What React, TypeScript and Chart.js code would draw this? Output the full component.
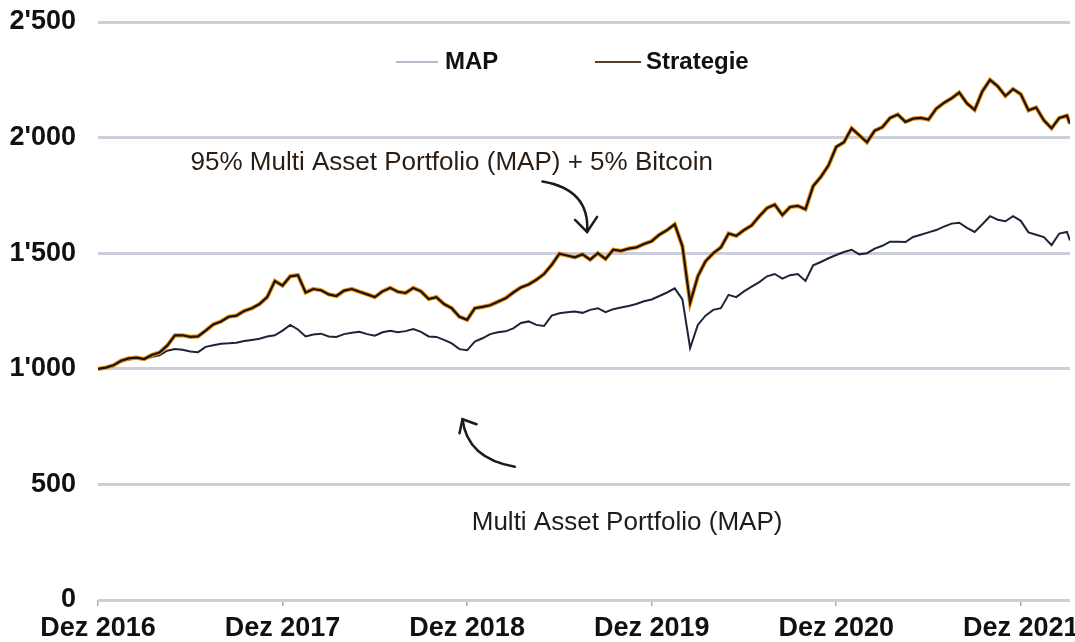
import React, { useEffect, useRef } from 'react';
import { Chart, registerables } from 'chart.js';

Chart.register(...registerables);

// Half-month sampling since Dez 2016 (months), last point a few days later
const STEP_MONTHS = 0.5;
const END_MONTH = 63.2;

const strategieValues = [
  1000, 1005, 1015, 1035, 1045, 1048, 1042, 1060, 1070, 1100,
  1145, 1145, 1138, 1140, 1165, 1192, 1205, 1225, 1230, 1250,
  1262, 1280, 1310, 1380, 1360, 1400, 1405, 1330, 1345, 1340,
  1322, 1315, 1338, 1345, 1333, 1322, 1310, 1335, 1350, 1333,
  1328, 1350, 1335, 1302, 1310, 1280, 1262, 1225, 1212, 1262,
  1268, 1275, 1290, 1305, 1330, 1352, 1365, 1385, 1410, 1450,
  1498, 1490, 1482, 1495, 1472, 1500, 1475, 1515, 1510, 1520,
  1525, 1540, 1552, 1580, 1600, 1625, 1530, 1285, 1400, 1465,
  1500, 1525, 1585, 1575, 1600, 1620, 1660, 1695, 1710, 1665,
  1700, 1705, 1690, 1790, 1830, 1880, 1960, 1980, 2040, 2010,
  1980, 2030, 2045, 2085, 2100, 2068, 2082, 2085, 2078, 2125,
  2150, 2170, 2195, 2148, 2120, 2200, 2250, 2222, 2180, 2210,
  2188, 2118, 2130, 2075, 2040, 2085, 2095, 2060,
];

const mapValues = [
  1000, 1003, 1012, 1030, 1040, 1045, 1040, 1052, 1058, 1078,
  1086, 1082, 1075, 1072, 1095, 1102, 1108, 1110, 1113, 1120,
  1125, 1130, 1140, 1145, 1165, 1190, 1170, 1140, 1148, 1152,
  1140, 1138, 1150, 1156, 1160, 1150, 1143, 1158, 1165, 1158,
  1163, 1172, 1160, 1140, 1138, 1125, 1110, 1085, 1080, 1118,
  1132, 1150, 1158, 1162, 1175, 1198, 1205, 1190, 1185, 1230,
  1240, 1245, 1248, 1242, 1255, 1262, 1245, 1258, 1265, 1272,
  1280, 1292, 1300, 1315, 1330, 1348, 1300, 1090, 1190, 1230,
  1255, 1262, 1320, 1310, 1335, 1355, 1375, 1400, 1410, 1390,
  1405, 1410, 1380, 1448, 1462, 1478, 1492, 1505, 1515, 1495,
  1500, 1520, 1532, 1550, 1550, 1548, 1570, 1580, 1590, 1600,
  1615, 1628, 1632, 1610, 1592, 1625, 1660, 1645, 1638, 1660,
  1640, 1590, 1580, 1570, 1535, 1585, 1592, 1555,
];

const months = strategieValues.map((_, i) =>
  i === strategieValues.length - 1 ? END_MONTH : i * STEP_MONTHS
);

const xTickLabels = ['Dez 2016', 'Dez 2017', 'Dez 2018', 'Dez 2019', 'Dez 2020', 'Dez 2021'];
const yTickLabels = ['0', '500', "1'000", "1'500", "2'000", "2'500"];
const seriesNames = ['MAP', 'Strategie'];
const annotationTop = '95% Multi Asset Portfolio (MAP) + 5% Bitcoin';
const annotationBottom = 'Multi Asset Portfolio (MAP)';

const FONT = '"Liberation Sans", Arial, Helvetica, sans-serif';

const overlayPlugin = {
  id: 'overlay',
  afterDraw(chart: any) {
    const { ctx } = chart;
    const xs = chart.scales.x;
    const ys = chart.scales.y;
    const px = (m: number) => xs.getPixelForValue(m);
    const py = (v: number) => ys.getPixelForValue(v);
    ctx.save();

    // Legend
    const ly = 62;
    ctx.lineWidth = 2;
    ctx.strokeStyle = '#b4bccb';
    ctx.beginPath();
    ctx.moveTo(396, ly);
    ctx.lineTo(438, ly);
    ctx.stroke();
    ctx.strokeStyle = '#5b3a2c';
    ctx.beginPath();
    ctx.moveTo(595, ly);
    ctx.lineTo(641, ly);
    ctx.stroke();
    ctx.fillStyle = '#111';
    ctx.font = `bold 24px ${FONT}`;
    ctx.textAlign = 'left';
    ctx.textBaseline = 'middle';
    ctx.fillText(seriesNames[0], 445, ly);
    ctx.fillText(seriesNames[1], 646, ly);

    // Annotation texts
    ctx.font = `26px ${FONT}`;
    ctx.textAlign = 'center';
    ctx.fillStyle = '#2a1e14';
    ctx.fillText(annotationTop, px(23), py(1892));
    ctx.fillStyle = '#1c1c1c';
    ctx.fillText(annotationBottom, px(34.4), py(333));

    // Arrows
    ctx.strokeStyle = '#1a1a1a';
    ctx.lineWidth = 2.5;
    ctx.lineCap = 'round';
    // Arrow 1 (down to Strategie)
    const a1s = [px(28.9), py(1810)];
    const a1c = [px(32.0), py(1775)];
    const a1e = [px(31.8), py(1592)];
    ctx.beginPath();
    ctx.moveTo(a1s[0], a1s[1]);
    ctx.quadraticCurveTo(a1c[0], a1c[1], a1e[0], a1e[1]);
    ctx.stroke();
    ctx.beginPath();
    ctx.moveTo(a1e[0] - 12, a1e[1] - 12);
    ctx.lineTo(a1e[0], a1e[1]);
    ctx.lineTo(a1e[0] + 10, a1e[1] - 15);
    ctx.stroke();
    // Arrow 2 (up to MAP)
    const a2s = [px(27.1), py(576)];
    const a2c = [px(24.0), py(612)];
    const a2e = [px(23.7), py(782)];
    ctx.beginPath();
    ctx.moveTo(a2s[0], a2s[1]);
    ctx.quadraticCurveTo(a2c[0], a2c[1], a2e[0], a2e[1]);
    ctx.stroke();
    ctx.beginPath();
    ctx.moveTo(a2e[0] - 3, a2e[1] + 14);
    ctx.lineTo(a2e[0], a2e[1]);
    ctx.lineTo(a2e[0] + 14, a2e[1] + 5);
    ctx.stroke();

    ctx.restore();
  },
};

export default function App() {
  const canvasRef = useRef<HTMLCanvasElement | null>(null);

  useEffect(() => {
    document.body.style.margin = '0';
    const canvas = canvasRef.current;
    if (!canvas) return;
    const toPoints = (vals: number[]) => vals.map((v, i) => ({ x: months[i], y: v }));

    const chart = new Chart(canvas, {
      type: 'line',
      data: {
        datasets: [
          {
            label: seriesNames[1] + ' core',
            data: toPoints(strategieValues),
            borderColor: '#1b130c',
            borderWidth: 2.2,
            pointRadius: 0,
            tension: 0,
            order: 0,
          },
          {
            label: seriesNames[1],
            data: toPoints(strategieValues),
            borderColor: '#e8921e',
            borderWidth: 4.2,
            pointRadius: 0,
            tension: 0,
            order: 1,
          },
          {
            label: seriesNames[0],
            data: toPoints(mapValues),
            borderColor: '#1d2438',
            borderWidth: 2,
            pointRadius: 0,
            tension: 0,
            order: 2,
          },
        ],
      },
      options: {
        responsive: false,
        animation: false,
        layout: { padding: { top: 22, right: 5, bottom: 0, left: 0 } },
        plugins: {
          legend: { display: false },
          tooltip: { enabled: false },
        },
        scales: {
          x: {
            type: 'linear',
            min: 0,
            max: END_MONTH,
            afterFit: (s: any) => {
              s.height = 42;
              s.paddingLeft = 0;
              s.paddingRight = 0;
            },
            afterBuildTicks: (s: any) => {
              s.ticks = xTickLabels.map((_, i) => ({ value: i * 12 }));
            },
            border: { display: false },
            grid: {
              drawOnChartArea: false,
              drawTicks: true,
              tickLength: 6,
              color: '#a9a9b8',
              lineWidth: 1.5,
            },
            ticks: {
              autoSkip: false,
              maxRotation: 0,
              padding: 6,
              color: '#111',
              font: { family: FONT, size: 27, weight: 'bold' },
              callback: (v: any) => xTickLabels[Math.round(Number(v) / 12)] ?? '',
            },
          },
          y: {
            min: 0,
            max: 2500,
            afterFit: (s: any) => {
              s.width = 98;
              s.paddingTop = 0;
              s.paddingBottom = 0;
            },
            afterBuildTicks: (s: any) => {
              s.ticks = yTickLabels.map((_, i) => ({ value: i * 500 }));
            },
            border: { display: false },
            grid: {
              drawTicks: false,
              color: '#cdcedb',
              lineWidth: 3,
            },
            ticks: {
              padding: 22,
              color: '#111',
              font: { family: FONT, size: 27, weight: 'bold' },
              callback: (v: any) => yTickLabels[Math.round(Number(v) / 500)] ?? '',
            },
          },
        },
      },
      plugins: [overlayPlugin],
    });
    return () => chart.destroy();
  }, []);

  return (
    <div style={{ width: 1075, height: 642 }}>
      <canvas ref={canvasRef} width={1075} height={642} style={{ display: 'block' }} />
    </div>
  );
}
